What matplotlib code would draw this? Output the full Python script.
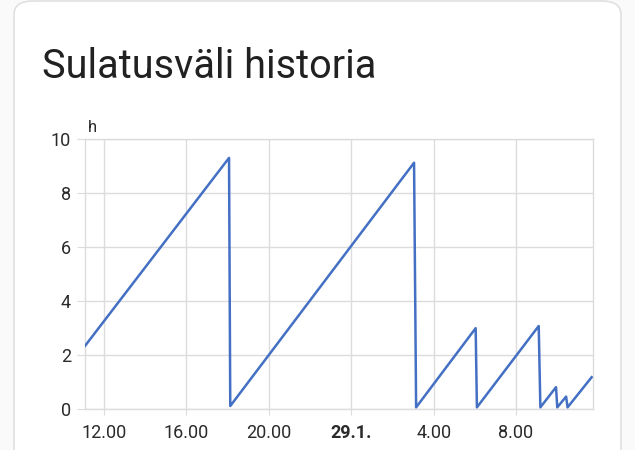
import matplotlib.pyplot as plt
import matplotlib.patches as patches
from matplotlib.ticker import FixedLocator

# hours counted from 28.1. 00:00
hours = [11.08, 18.07, 18.13, 27.05, 27.15, 30.04, 30.10, 33.10, 33.18,
         33.94, 34.00, 34.43, 34.50, 35.67]
values = [2.33, 9.31, 0.10, 9.13, 0.05, 2.99, 0.05, 3.07, 0.05,
          0.80, 0.05, 0.45, 0.05, 1.17]

tick_pos = [12, 16, 20, 24, 28, 32]
tick_lab = ['12.00', '16.00', '20.00', '29.1.', '4.00', '8.00']
y_ticks = [0, 2, 4, 6, 8, 10]

plt.rcParams['font.family'] = ['Roboto', 'DejaVu Sans']

W, H = 635, 450
fig = plt.figure(figsize=(W / 100, H / 100), dpi=100)
fig.patch.set_facecolor('#fafafa')

# card
card = patches.FancyBboxPatch((14 / W, -40 / H), (621 - 14) / W, (H - 1 + 40) / H,
                              boxstyle='round,pad=0,rounding_size=0.03',
                              transform=fig.transFigure, facecolor='white',
                              edgecolor='#e0e0e0', linewidth=1.2, zorder=-1)
fig.patches.append(card)

fig.text(42 / W, 1 - 78 / H, 'Sulatusväli historia', fontsize=28.5,
         color='#212121', ha='left', va='baseline')

ax = fig.add_axes([85 / W, 1 - 408.7 / H, (592.7 - 85) / W, (408.7 - 139.3) / H])
ax.set_facecolor('none')
ax.plot(hours, values, color='#4470c4', linewidth=1.8, zorder=3)

ax.set_xlim(11.08, 35.72)
ax.set_ylim(0, 10)
ax.xaxis.set_major_locator(FixedLocator(tick_pos))
ax.set_xticklabels(tick_lab)
ax.set_yticks(y_ticks)

grid_c = '#dcdcdc'
ax.grid(True, color=grid_c, linewidth=1)
for s in ax.spines.values():
    s.set_color(grid_c)
    s.set_linewidth(1)
ax.tick_params(axis='both', colors=grid_c, labelcolor='#2a2a2a', labelsize=13)
ax.tick_params(axis='y', length=6, pad=4)
ax.tick_params(axis='x', length=4, pad=7)
for lab in ax.get_xticklabels():
    if lab.get_text() == '29.1.':
        lab.set_fontweight('bold')

ax.text(0.005, 1.015, 'h', transform=ax.transAxes, fontsize=12,
        color='#2a2a2a', ha='left', va='bottom')

fig.savefig('out.png', dpi=100, facecolor=fig.get_facecolor())
